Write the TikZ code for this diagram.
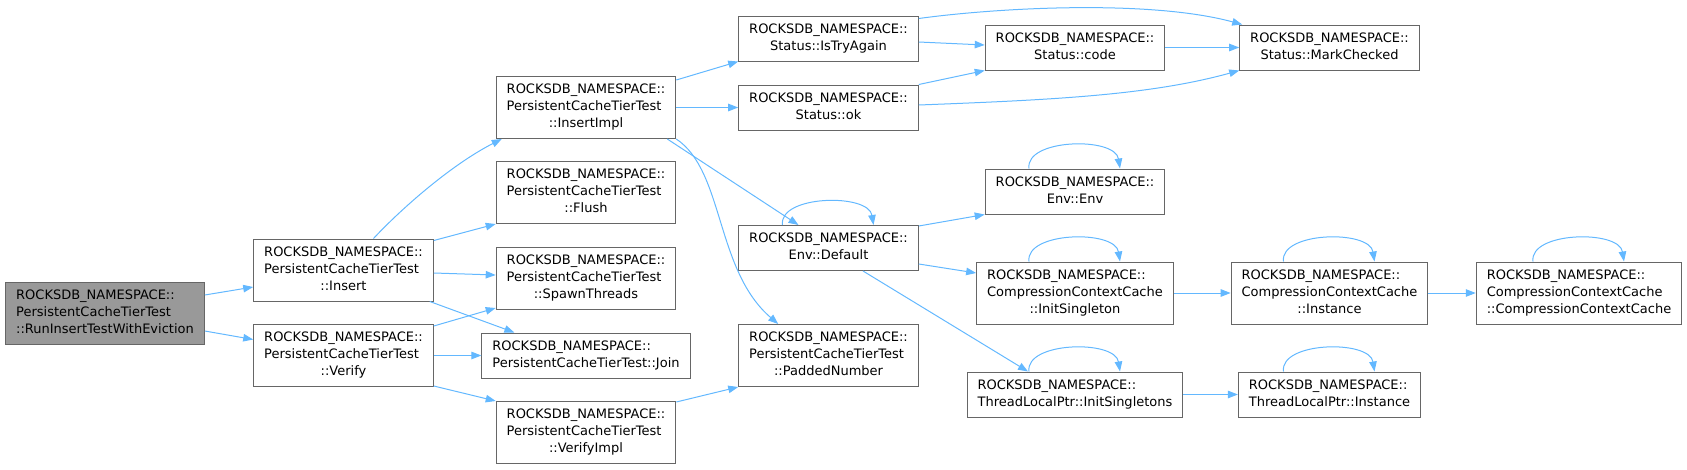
\documentclass[tikz,border=0pt]{standalone}
\usepackage{fontspec}
\setmainfont{DejaVu Sans}
\usepackage{tikz}
\usetikzlibrary{arrows.meta}
\definecolor{dxBlue}{RGB}{99,184,255}
\definecolor{dxBorder}{RGB}{102,102,102}
\definecolor{dxRoot}{RGB}{153,153,153}
\newcommand{\rdbns}{ROCKSDB\_NAMESPACE::}
% label: upper lines flush left, last line centred
\newcommand{\dxlabel}[2]{\begin{tabular}{@{}l@{}}#1\\\multicolumn{1}{@{}c@{}}{#2}\end{tabular}}
\newcommand{\pctt}{\rdbns\\PersistentCacheTierTest}
\newcommand{\cccl}{\rdbns\\CompressionContextCache}

\begin{document}
\begin{tikzpicture}[x=1pt,y=-1pt,
  fn/.style={draw=dxBorder, fill=white, line width=1pt,
    inner xsep=10.5pt, inner ysep=0pt, font=\fontsize{13}{17}\selectfont},
  two/.style={fn, minimum height=45pt},
  three/.style={fn, minimum height=62pt},
  root/.style={three, fill=dxRoot},
  callarrow/.style={draw=dxBlue, line width=1pt, -{Triangle[length=10pt,width=7.5pt]}}]
\useasboundingbox (0,0) rectangle (1687,469);

% callers
\node[root]  (run)     at (105,313)     {\dxlabel{\pctt}{::RunInsertTestWithEviction}};
\node[three] (ins)     at (343.5,270)   {\dxlabel{\pctt}{::Insert}};
\node[three] (ver)     at (343.5,355.5) {\dxlabel{\pctt}{::Verify}};

% test helpers
\node[three] (insimpl) at (586,107.5) {\dxlabel{\pctt}{::InsertImpl}};
\node[three] (flush)   at (586,192.5) {\dxlabel{\pctt}{::Flush}};
\node[three] (spawn)   at (586,278.5) {\dxlabel{\pctt}{::SpawnThreads}};
\node[two]   (join)    at (586,355.5) {\dxlabel{\rdbns}{PersistentCacheTierTest::Join}};
\node[three] (verimpl) at (586,432.5) {\dxlabel{\pctt}{::VerifyImpl}};

% status and env
\node[two]   (istry)  at (828.5,38.5)  {\dxlabel{\rdbns}{Status::IsTryAgain}};
\node[two]   (ok)     at (828.5,107.5) {\dxlabel{\rdbns}{Status::ok}};
\node[two]   (envdef) at (828.5,248)   {\dxlabel{\rdbns}{Env::Default}};
\node[three] (padded) at (828.5,355.5) {\dxlabel{\pctt}{::PaddedNumber}};
\node[two]   (code)   at (1075,47.5)   {\dxlabel{\rdbns}{Status::code}};
\node[two]   (mark)   at (1329.5,47.5) {\dxlabel{\rdbns}{Status::MarkChecked}};
\node[two]   (envenv) at (1075,191.5)  {\dxlabel{\rdbns}{Env::Env}};

% singletons
\node[three] (ccinit) at (1075,293)    {\dxlabel{\cccl}{::InitSingleton}};
\node[three] (ccinst) at (1329.5,293)  {\dxlabel{\cccl}{::Instance}};
\node[three] (ccc)    at (1579,293)    {\dxlabel{\cccl}{::CompressionContextCache}};
\node[two]   (tlinit) at (1075,394.5)  {\dxlabel{\rdbns}{ThreadLocalPtr::InitSingletons}};
\node[two]   (tlinst) at (1329.5,394.5) {\dxlabel{\rdbns}{ThreadLocalPtr::Instance}};

% calls
\draw[callarrow] ([yshift=18pt]run.east) -- ([yshift=-17pt]ins.west);
\draw[callarrow] ([yshift=-18pt]run.east) -- ([yshift=16pt]ver.west);
\draw[callarrow] ([xshift=30pt]ins.north) .. controls +(27,-29) and +(-51,26) .. ([xshift=6pt]insimpl.south west);
\draw[callarrow] ([yshift=-2pt]ins.north east) -- (flush.south west);
\draw[callarrow] ([yshift=-3pt]ins.east) -- ([yshift=3.5pt]spawn.west);
\draw[callarrow] ([xshift=-4pt]ins.south east) -- ([xshift=33pt]join.north west);
\draw[callarrow] ([yshift=-2pt]ver.north east) -- ([yshift=2pt]spawn.south west);
\draw[callarrow] (ver.east) -- (join.west);
\draw[callarrow] ([yshift=1pt]ver.south east) -- (verimpl.north west);
\draw[callarrow] ([yshift=-4pt]insimpl.north east) -- (istry.south west);
\draw[callarrow] (insimpl.east) -- (ok.west);
\draw[callarrow] ([xshift=-9pt]insimpl.south east) -- ([xshift=-30pt]envdef.north);
\draw[callarrow] (insimpl.south east) .. controls +(48,32) and +(-63,-54) .. ([xshift=40pt]padded.north west);
\draw[callarrow] ([yshift=-1pt]verimpl.north east) -- (padded.south west);
\draw[callarrow] ([yshift=-3pt]istry.north east) .. controls +(80,-11) and +(-92,-25) .. ([xshift=3pt]mark.north west);
\draw[callarrow] ([yshift=-3.5pt]istry.east) -- ([yshift=2.5pt]code.west);
\draw[callarrow] (ok.north east) -- (code.south west);
\draw[callarrow] ([yshift=2.5pt]ok.east) .. controls +(130,-5) and +(-90,25) .. (mark.south west);
\draw[callarrow] (code.east) -- (mark.west);
\draw[callarrow] ([yshift=-1pt]envdef.north east) -- (envenv.south west);
\draw[callarrow] ([yshift=-16pt]envdef.east) -- ([yshift=20pt]ccinit.west);
\draw[callarrow] ([xshift=34.5pt]envdef.south) -- ([xshift=-47pt]tlinit.north);
\draw[callarrow] (ccinit.east) -- (ccinst.west);
\draw[callarrow] (ccinst.east) -- (ccc.west);
\draw[callarrow] (tlinit.east) -- (tlinst.west);

% recursive calls
\foreach \n in {envdef,envenv,ccinit,ccinst,ccc,tlinit,tlinst}
  \draw[callarrow] ([xshift=-46pt]\n.north) .. controls +(-4,-30) and +(-5,-32) .. ([xshift=45pt]\n.north);
\end{tikzpicture}
\end{document}
